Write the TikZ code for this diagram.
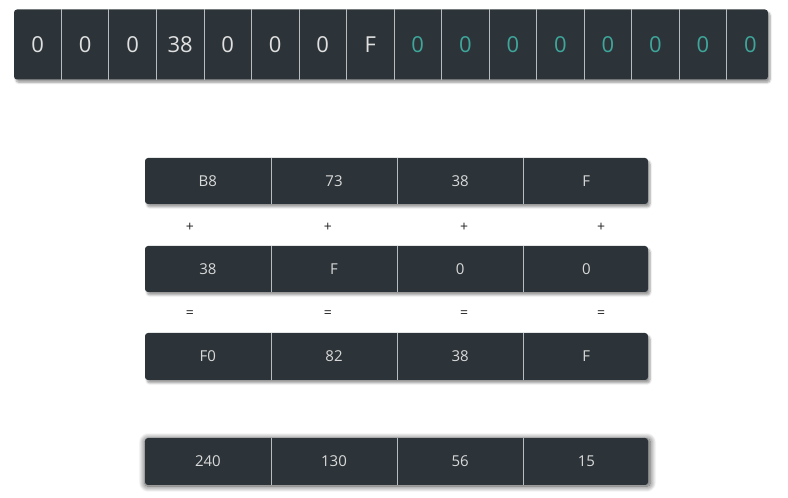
\documentclass[tikz,border=0pt]{standalone}
\usepackage{fontspec}
\setmainfont{Open Sans}
\usepackage{tikz}
\usetikzlibrary{positioning, shadows.blur}
\definecolor{slate}{HTML}{2C3439}
\definecolor{teal0}{HTML}{3FA69B}
\definecolor{divider}{HTML}{B8BCBE}
\tikzstyle{bar} = [rectangle, inner sep=0pt, fill=slate, rounded corners=3pt, blur shadow={shadow xshift=2pt, shadow yshift=-3pt, shadow blur steps=6, shadow opacity=40}]
\tikzstyle{sep} = [divider, line width=0.8pt]

\begin{document}
\begin{tikzpicture}[x=1pt, y=1pt,
bytecell/.style={rectangle, inner sep=0pt, minimum width=47.125pt, minimum height=70pt, text=white!88!black, font=\fontsize{22}{24}\selectfont},
zerocell/.style={bytecell, text=teal0},
sumcell/.style={rectangle, inner sep=0pt, minimum width=125.75pt, minimum height=46pt, text=white!85!black, font=\fontsize{15}{17}\selectfont},
opnode/.style={text=black!85, font=\fontsize{14}{16}\selectfont},
]
\useasboundingbox (0,0) rectangle (788,498);
%Nodes
\node[bar, minimum width=754pt, minimum height=70pt] (topbar) at (391,453.5) {};
\node[bytecell, anchor=west]  (t1)  at (topbar.west) {0};
\node[bytecell]  (t2)  [right=0pt of t1]  {0};
\node[bytecell]  (t3)  [right=0pt of t2]  {0};
\node[bytecell]  (t4)  [right=0pt of t3]  {38};
\node[bytecell]  (t5)  [right=0pt of t4]  {0};
\node[bytecell]  (t6)  [right=0pt of t5]  {0};
\node[bytecell]  (t7)  [right=0pt of t6]  {0};
\node[bytecell]  (t8)  [right=0pt of t7]  {F};
\node[zerocell]  (t9)  [right=0pt of t8]  {0};
\node[zerocell]  (t10) [right=0pt of t9]  {0};
\node[zerocell]  (t11) [right=0pt of t10] {0};
\node[zerocell]  (t12) [right=0pt of t11] {0};
\node[zerocell]  (t13) [right=0pt of t12] {0};
\node[zerocell]  (t14) [right=0pt of t13] {0};
\node[zerocell]  (t15) [right=0pt of t14] {0};
\node[zerocell]  (t16) [right=0pt of t15] {0};

\node[bar, minimum width=503pt, minimum height=46pt] (rowa) at (396.5,317) {};
\node[sumcell, anchor=west] (a1) at (rowa.west) {B8};
\node[sumcell] (a2) [right=0pt of a1] {73};
\node[sumcell] (a3) [right=0pt of a2] {38};
\node[sumcell] (a4) [right=0pt of a3] {F};

\node[bar, minimum width=503pt, minimum height=46pt] (rowb) at (396.5,229) {};
\node[sumcell, anchor=west] (b1) at (rowb.west) {38};
\node[sumcell] (b2) [right=0pt of b1] {F};
\node[sumcell] (b3) [right=0pt of b2] {0};
\node[sumcell] (b4) [right=0pt of b3] {0};

\node[bar, minimum width=503pt, minimum height=47pt] (rowc) at (396.5,141.5) {};
\node[sumcell, anchor=west] (c1) at (rowc.west) {F0};
\node[sumcell] (c2) [right=0pt of c1] {82};
\node[sumcell] (c3) [right=0pt of c2] {38};
\node[sumcell] (c4) [right=0pt of c3] {F};

\node[bar, minimum width=503pt, minimum height=47pt, blur shadow={shadow xshift=1pt, shadow yshift=-1pt, shadow scale=1.005, shadow blur radius=6pt, shadow blur steps=12, shadow opacity=40}] (rowd) at (396.5,36.5) {};
\node[sumcell, anchor=west] (d1) at (rowd.west) {240};
\node[sumcell] (d2) [right=0pt of d1] {130};
\node[sumcell] (d3) [right=0pt of d2] {56};
\node[sumcell] (d4) [right=0pt of d3] {15};

\node[opnode] (p1) at (190,271) {+};
\node[opnode] (p2) at (328,271) {+};
\node[opnode] (p3) at (464,271) {+};
\node[opnode] (p4) at (601,271) {+};
\node[opnode] (e1) at (190,184) {=};
\node[opnode] (e2) at (328,184) {=};
\node[opnode] (e3) at (464,184) {=};
\node[opnode] (e4) at (601,184) {=};

%Lines
\foreach \i in {1,...,15} \draw[sep] (t\i.north east) -- (t\i.south east);
\foreach \r in {a,b,c,d} {
  \foreach \i in {1,2,3} \draw[sep] (\r\i.north east) -- (\r\i.south east);
}

\end{tikzpicture}
\end{document}
